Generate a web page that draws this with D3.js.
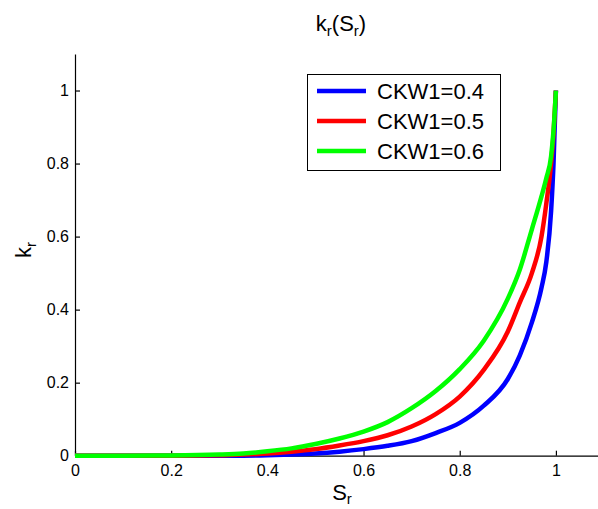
<!DOCTYPE html>
<html>
<head>
<meta charset="utf-8">
<script src="https://cdn.jsdelivr.net/npm/d3@7/dist/d3.min.js"></script>
<style>
	body { margin: 0; background: #fff; }
	text { font-family: Arial, "Liberation Sans", sans-serif; fill: #000; }
</style>
</head>
<body>
<div id="chart"></div>
<script>

// saturation values shared by all curves
var sr = [0, 0.1, 0.2, 0.3, 0.35, 0.4, 0.45, 0.5, 0.55, 0.6, 0.65, 0.7, 0.75, 0.8, 0.85, 0.9, 0.925, 0.95, 0.97, 0.98, 0.99, 0.995, 1.0];

// relative permeability
var kr04 = [0, 0, 0, 0, 0, 0.001, 0.003, 0.006, 0.011, 0.018, 0.027, 0.04, 0.062, 0.09, 0.137, 0.21, 0.275, 0.365, 0.46, 0.53, 0.67, 0.8, 1.0];
var kr05 = [0, 0, 0, 0.001, 0.003, 0.006, 0.011, 0.018, 0.028, 0.04, 0.056, 0.08, 0.114, 0.162, 0.235, 0.34, 0.42, 0.5, 0.6, 0.69, 0.8, 0.88, 1.0];
var kr06 = [0, 0, 0.0005, 0.003, 0.006, 0.012, 0.02, 0.032, 0.047, 0.066, 0.092, 0.13, 0.177, 0.237, 0.315, 0.43, 0.51, 0.62, 0.71, 0.76, 0.82, 0.89, 1.0];

var seriesNames = ["CKW1=0.4", "CKW1=0.5", "CKW1=0.6"];
var seriesColors = ["#0000ff", "#ff0000", "#00ff00"];

var xTicks = [0, 0.2, 0.4, 0.6, 0.8, 1];
var yTicks = [0, 0.2, 0.4, 0.6, 0.8, 1];

var width = 598, height = 509;

var svg = d3.select("#chart")
	.append("svg")
	.attr("width", width)
	.attr("height", height);

var x = d3.scaleLinear().domain([0, 1.1]).range([75, 604]);
var y = d3.scaleLinear().domain([0, 1.1]).range([455.7, 54]);

// axes, ticks pointing inward like matlab
var xAxis = d3.axisBottom(x)
	.tickValues(xTicks)
	.tickFormat(d3.format("~g"))
	.tickSizeInner(-5)
	.tickSizeOuter(0)
	.tickPadding(9);

var yAxis = d3.axisLeft(y)
	.tickValues(yTicks)
	.tickFormat(d3.format("~g"))
	.tickSizeInner(-5)
	.tickSizeOuter(0)
	.tickPadding(6);

svg.append("g")
	.attr("transform", "translate(0," + y(0) + ")")
	.call(xAxis);

svg.append("g")
	.attr("transform", "translate(" + x(0) + ",0)")
	.call(yAxis);

svg.selectAll(".tick text")
	.style("font-size", "16px")
	.style("font-family", "Arial, 'Liberation Sans', sans-serif")
	.attr("fill", "#222");
svg.selectAll(".domain, .tick line")
	.attr("stroke", "#000")
	.attr("stroke-width", 1.2);

// curves
var series = [kr04, kr05, kr06];

var line = d3.line()
	.x(function(d, i) { return x(sr[i]); })
	.y(function(d) { return y(d); })
	.curve(d3.curveMonotoneX);

svg.selectAll("path.curve")
	.data(series)
	.enter()
		.append("path")
		.attr("class", "curve")
		.attr("fill", "none")
		.attr("stroke", function(d, i) { return seriesColors[i]; })
		.attr("stroke-width", 4.5)
		.attr("d", line);

// title
var title = svg.append("text")
	.attr("x", 341)
	.attr("y", 31)
	.attr("text-anchor", "middle")
	.style("font-size", "22px");
title.append("tspan").text("k");
title.append("tspan").attr("dy", 5).style("font-size", "15px").text("r");
title.append("tspan").attr("dy", -5).text("(S");
title.append("tspan").attr("dy", 5).style("font-size", "15px").text("r");
title.append("tspan").attr("dy", -5).text(")");

// x label
var xLabel = svg.append("text")
	.attr("x", 342)
	.attr("y", 500)
	.attr("text-anchor", "middle")
	.style("font-size", "22px");
xLabel.append("tspan").text("S");
xLabel.append("tspan").attr("dy", 4).style("font-size", "15px").text("r");

// y label
var yLabel = svg.append("text")
	.attr("transform", "translate(31,250) rotate(-90)")
	.attr("text-anchor", "middle")
	.style("font-size", "22px");
yLabel.append("tspan").text("k");
yLabel.append("tspan").attr("dy", 5).style("font-size", "15px").text("r");

// legend
var legend = svg.append("g");

legend.append("rect")
	.attr("x", 307.5)
	.attr("y", 74.5)
	.attr("width", 193)
	.attr("height", 96)
	.attr("fill", "#fff")
	.attr("stroke", "#000")
	.attr("stroke-width", 1);

var rows = legend.selectAll("g.row")
	.data(seriesNames)
	.enter()
		.append("g")
		.attr("class", "row")
		.attr("transform", function(d, i) { return "translate(0," + (91 + i * 30) + ")"; });

rows.append("line")
	.attr("x1", 317)
	.attr("x2", 366)
	.attr("stroke", function(d, i) { return seriesColors[i]; })
	.attr("stroke-width", 4.5);

rows.append("text")
	.attr("x", 377)
	.attr("y", 8)
	.style("font-size", "22px")
	.text(function(d) { return d; });

</script>
</body>
</html>
